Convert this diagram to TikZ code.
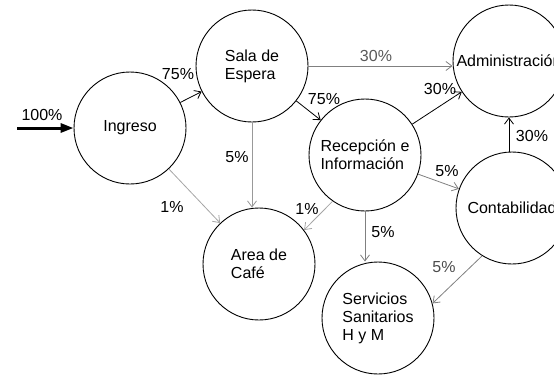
\documentclass[tikz,border=0pt]{standalone}
\usepackage{fontspec}
\setmainfont{Liberation Sans}
\usetikzlibrary{arrows.meta}
\tikzset{
  estacion/.style={draw,circle,minimum size=112bp,inner sep=0pt,line width=0.9bp,align=left},
  flecha/.style={-{Straight Barb[length=6bp,width=9bp]},line width=0.8bp},
  etiqueta/.style={inner sep=0pt}
}
\begin{document}
\begin{tikzpicture}[x=1bp,y=-1bp,font=\fontsize{16bp}{18bp}\selectfont]
  \useasboundingbox (0,0) rectangle (554,374);
  \clip (0,0) rectangle (554,374);
  % estaciones
  \node[estacion] (ingreso) at (130,128) {Ingreso};
  \node[estacion] (sala) at (252,66) {Sala de\\Espera};
  \node[estacion] (admin) at (509,61) {Administración};
  \node[estacion] (recep) at (365,155) {Recepción e\\Información};
  \node[estacion] (contab) at (512,208) {Contabilidad};
  \node[estacion] (area) at (259,264) {Area de\\Café};
  \node[estacion] (serv) at (378,318) {Servicios\\Sanitarios\\H y M};
  % flujos
  \coordinate (entrada) at (17,128);
  \draw[line width=3bp,-{Triangle[length=13bp,width=9bp]}] (entrada) -- (ingreso);
  \draw[flecha] (ingreso) -- (sala);
  \draw[flecha,black!35] (ingreso) -- (area);
  \draw[flecha,black!40] (sala.south) -- (sala.south |- area.north);
  \draw[flecha,black!50] (sala.east) -- (sala.east -| admin.west);
  \draw[flecha] (sala) -- (recep);
  \draw[flecha] (recep) -- (admin);
  \draw[flecha,black!50] (recep) -- (contab);
  \draw[flecha,black!35] (recep.235) -- (area.37);
  \draw[flecha,black!50] (recep.south) -- (recep.south |- serv.north);
  \draw[flecha] (admin.south |- contab.north) -- (admin.south);
  \draw[flecha,black!50] (contab.238) -- (serv.15);
  % porcentajes
  \node[etiqueta] (p100) at (42,115) {100\%};
  \node[etiqueta] (p75a) at (178,74) {75\%};
  \node[etiqueta] (p5a) at (237,157) {5\%};
  \node[etiqueta] (p1a) at (172,207) {1\%};
  \node[etiqueta,black!65] (p30a) at (376,56) {30\%};
  \node[etiqueta] (p75b) at (324,99) {75\%};
  \node[etiqueta] (p30b) at (440,89) {30\%};
  \node[etiqueta] (p30c) at (532,136) {30\%};
  \node[etiqueta] (p5b) at (447,171) {5\%};
  \node[etiqueta] (p1b) at (307,209) {1\%};
  \node[etiqueta] (p5c) at (383,232) {5\%};
  \node[etiqueta,black!70] (p5d) at (444,267) {5\%};
\end{tikzpicture}
\end{document}
